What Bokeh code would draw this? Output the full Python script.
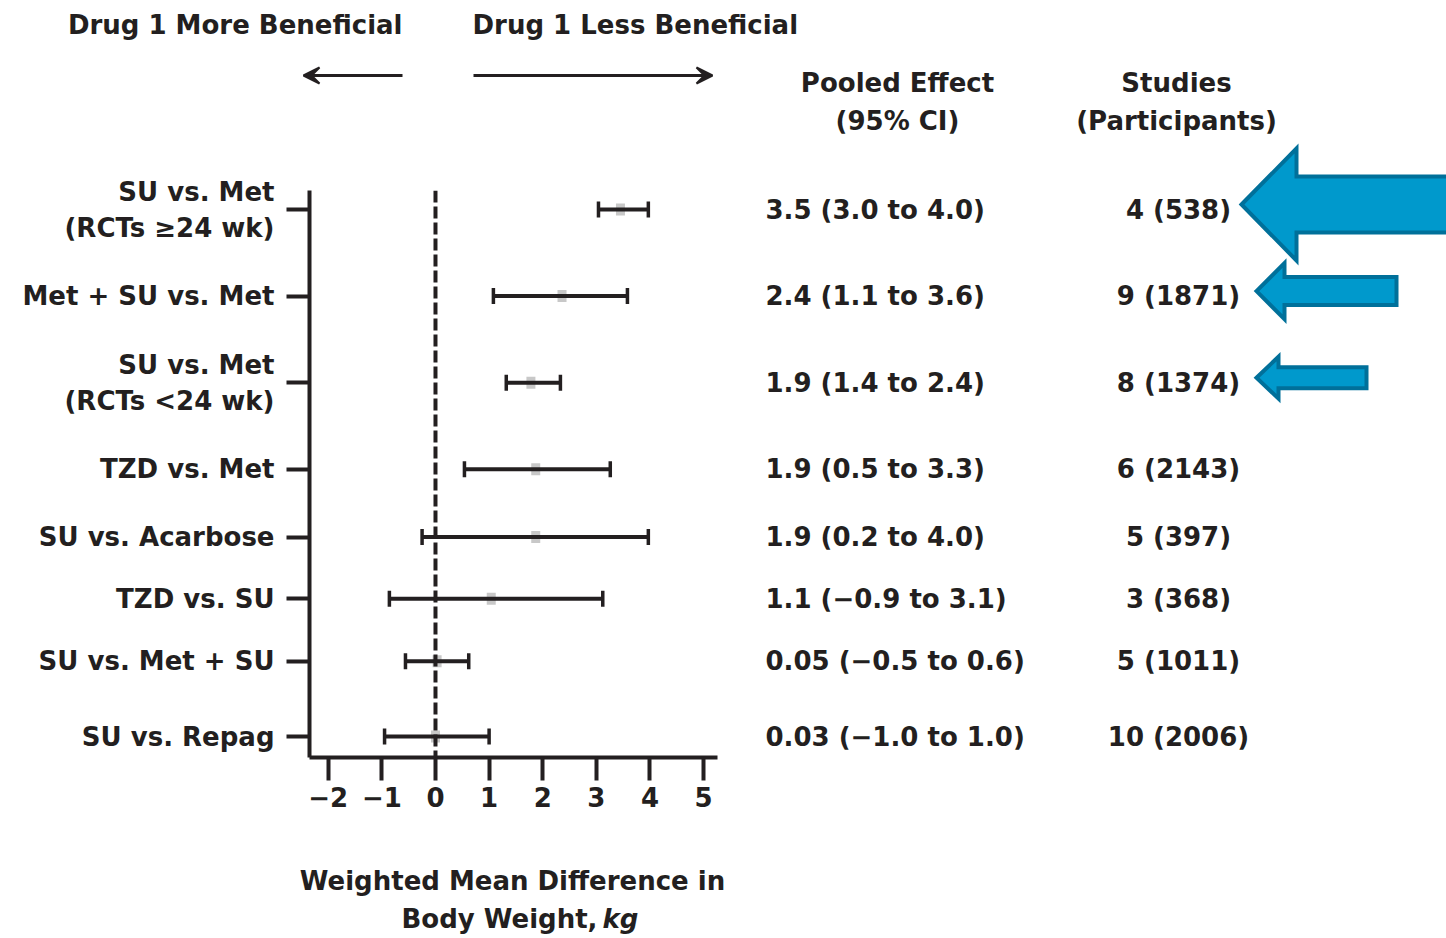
import numpy as np
from bokeh.plotting import figure
from bokeh.layouts import row, column
from bokeh.models import (Range1d, FixedTicker, Span, ColumnDataSource, Arrow, VeeHead)
from bokeh.core.properties import value
from bokeh.embed import file_html
from bokeh.resources import INLINE

# ---------------- data ----------------
comparisons = ["SU vs. Met\n(RCTs \u226524 wk)", "Met + SU vs. Met", "SU vs. Met\n(RCTs <24 wk)",
               "TZD vs. Met", "SU vs. Acarbose", "TZD vs. SU", "SU vs. Met + SU", "SU vs. Repag"]
effect = [3.45, 2.36, 1.78, 1.87, 1.87, 1.04, 0.03, 0.0]
ci_low = [3.04, 1.08, 1.32, 0.54, -0.25, -0.86, -0.56, -0.95]
ci_high = [3.97, 3.58, 2.33, 3.26, 3.97, 3.12, 0.62, 1.0]
pooled_text = ["3.5 (3.0 to 4.0)", "2.4 (1.1 to 3.6)", "1.9 (1.4 to 2.4)", "1.9 (0.5 to 3.3)",
               "1.9 (0.2 to 4.0)", "1.1 (\u22120.9 to 3.1)", "0.05 (\u22120.5 to 0.6)",
               "0.03 (\u22121.0 to 1.0)"]
studies = [4, 9, 8, 6, 5, 3, 5, 10]
participants = [538, 1871, 1374, 2143, 397, 368, 1011, 2006]
x_ticks = [-2, -1, 0, 1, 2, 3, 4, 5]
x_tick_labels = ["\u22122", "\u22121", "0", "1", "2", "3", "4", "5"]
highlighted_rows = [0, 1, 2]

# ---------------- layout / style ----------------
FONT = "DejaVu Sans"
FS = "26px"
INK = "#231f20"
row_gap = [1.15, 1.15, 1.15, 0.9, 0.82, 0.83, 1.0]
row_y = [0.0] + [float(round(v, 4)) for v in np.cumsum(row_gap)]
PX_PER_ROW = 75.3
ROW0_PX = 209          # canvas y of first row
LEFT_W, TOTAL_W, TOTAL_H = 740, 1446, 938
TOP_H, MAIN_TOP, FRAME_H, MAIN_BOTTOM = 140, 50, 567, 70
MAIN_H = MAIN_TOP + FRAME_H + MAIN_BOTTOM
BOT_H = TOTAL_H - TOP_H - MAIN_H

text_kw = dict(text_font=value(FONT), text_font_style="bold", text_font_size=value(FS),
               text_color=INK, text_baseline="middle")


def blank(width, height, x_range, y_range):
    f = figure(width=width, height=height, x_range=x_range, y_range=y_range,
               output_backend="svg", toolbar_location=None, min_border=0,
               min_border_left=0, min_border_right=0, min_border_top=0, min_border_bottom=0,
               frame_align=False)
    f.axis.visible = False
    f.grid.visible = False
    f.outline_line_color = None
    f.background_fill_color = "white"
    f.border_fill_color = "white"
    return f


def px_to_row(py):
    return row_y[0] + (py - ROW0_PX) / PX_PER_ROW


# ---------------- main forest plot ----------------
y_top = px_to_row(TOP_H + MAIN_TOP)
y_bot = y_top + FRAME_H / PX_PER_ROW

p = figure(width=LEFT_W, height=MAIN_H,
           x_range=Range1d(-2.35, 5.26),
           y_range=Range1d(y_bot, y_top),
           output_backend="svg", toolbar_location=None, frame_align=False,
           min_border_left=309, min_border_right=LEFT_W - 717,
           min_border_top=MAIN_TOP, min_border_bottom=MAIN_BOTTOM)
p.grid.visible = False
p.outline_line_color = None

for ax in (p.xaxis[0], p.yaxis[0]):
    ax.axis_line_width = 4
    ax.axis_line_color = INK
    ax.major_tick_line_width = 4
    ax.major_tick_line_color = INK
    ax.major_tick_out = 23
    ax.major_tick_in = 0
    ax.minor_tick_line_color = None
    ax.major_label_text_font = FONT
    ax.major_label_text_font_style = "bold"
    ax.major_label_text_font_size = FS
    ax.major_label_text_color = INK

p.xaxis.ticker = FixedTicker(ticks=x_ticks)
p.xaxis.major_label_overrides = {t: lab for t, lab in zip(x_ticks, x_tick_labels)}
p.xaxis.major_label_standoff = 6

p.yaxis.ticker = FixedTicker(ticks=row_y)
p.yaxis.major_label_overrides = {y: lab for y, lab in zip(row_y, comparisons)}
p.yaxis.major_label_standoff = 12

p.add_layout(Span(location=0, dimension="height", line_color=INK,
                  line_width=4, line_dash="12 4"))

src = ColumnDataSource(dict(y=row_y, eff=effect, lo=ci_low, hi=ci_high))
p.rect(x="eff", y="y", width=9, height=12, width_units="screen", height_units="screen",
       source=src, fill_color="#c8c8c8", line_color=None)
p.segment(x0="lo", y0="y", x1="hi", y1="y", source=src, line_color=INK, line_width=4)
p.rect(x="lo", y="y", width=3.5, height=16, width_units="screen", height_units="screen",
       source=src, fill_color=INK, line_color=None)
p.rect(x="hi", y="y", width=3.5, height=16, width_units="screen", height_units="screen",
       source=src, fill_color=INK, line_color=None)

# ---------------- header strip (full width) ----------------
top = blank(TOTAL_W, TOP_H, Range1d(0, TOTAL_W), Range1d(TOP_H, 0))
top.text(x=[402, 472], y=[24, 24], text=["Drug 1 More Beneficial", "Drug 1 Less Beneficial"],
         text_align=["right", "left"], **text_kw)
top.text(x=[897, 897, 1176, 1176], y=[82, 120, 82, 120],
         text=["Pooled Effect", "(95% CI)", "Studies", "(Participants)"],
         text_align="center", **text_kw)
for xs, xe in [(402, 303), (473, 712)]:
    top.add_layout(Arrow(x_start=xs, y_start=75, x_end=xe, y_end=75,
                         line_color=INK, line_width=3,
                         end=VeeHead(size=16, fill_color=INK, line_color=INK, line_width=2)))

# ---------------- axis title below ----------------
bot = blank(LEFT_W, BOT_H, Range1d(0, LEFT_W), Range1d(BOT_H, 0))
bot_y0 = TOTAL_H - BOT_H
bot.text(x=[512, 597], y=[880 - bot_y0, 918 - bot_y0],
         text=["Weighted Mean Difference in", "Body Weight,"],
         text_align=["center", "right"], **text_kw)
bot.text(x=[602], y=[918 - bot_y0], text=["kg"], text_align="left",
         text_font=value(FONT), text_font_style="bold italic", text_font_size=value(FS),
         text_color=INK, text_baseline="middle")

# ---------------- right-hand columns ----------------
right = blank(TOTAL_W - LEFT_W, TOTAL_H - TOP_H, Range1d(LEFT_W, TOTAL_W),
              Range1d(px_to_row(TOTAL_H), px_to_row(TOP_H)))
rsrc = ColumnDataSource(dict(y=row_y, txt=pooled_text,
                             st=[f"{s} ({n})" for s, n in zip(studies, participants)]))
right.text(x=765, y="y", text="txt", source=rsrc, text_align="left", **text_kw)
right.text(x=1178, y="y", text="st", source=rsrc, text_align="center", **text_kw)

# blue highlight arrows
arrow_geom = [  # tip x, head length, head half-height, shaft half-height, tail x
    (1241, 55, 56, 28, 1470),
    (1256, 28, 28, 14, 1396),
    (1256, 22, 21, 10.5, 1366),
]
k = 1.0 / PX_PER_ROW
for r, (tip, hl, hh, sh, tail) in zip(highlighted_rows, arrow_geom):
    yc = row_y[r] - 5 * k
    xs = [tip, tip + hl, tip + hl, tail, tail, tip + hl, tip + hl]
    ys = [yc, yc - hh * k, yc - sh * k, yc - sh * k, yc + sh * k, yc + sh * k, yc + hh * k]
    right.patch(xs, ys, fill_color="#0099cc", line_color="#00709a", line_width=4,
                line_join="miter")

layout = column(top, row(column(p, bot, spacing=0), right, spacing=0), spacing=0)
open("out.html", "w").write(file_html(layout, INLINE))
